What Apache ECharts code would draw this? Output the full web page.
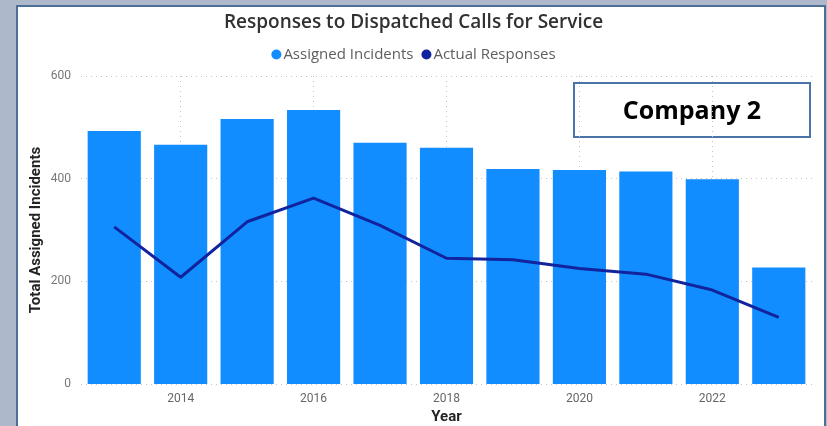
<!DOCTYPE html>
<html>
<head>
<meta charset="utf-8">
<script src="https://cdn.jsdelivr.net/npm/echarts@6/dist/echarts.min.js"></script>
<style>
  html, body { margin: 0; padding: 0; background: #adb9cb; }
  #chart { width: 827px; height: 426px; }
</style>
</head>
<body>
<div id="chart"></div>
<script>
// yearly counts
const years = ['2013', '2014', '2015', '2016', '2017', '2018', '2019', '2020', '2021', '2022', '2023']
const assignedIncidents = [493, 466, 516, 534, 470, 460, 419, 417, 414, 399, 227]
const actualResponses = [306, 208, 316, 362, 309, 245, 242, 225, 214, 183, 130]
const yTicks = [0, 200, 400, 600]

const chart = echarts.init(document.getElementById('chart'))

const GRID_LINE = { type: [1, 4], color: '#c4c4c4', width: 1 }
const evenYear = (i) => i % 2 === 1

chart.setOption({
  backgroundColor: '#adb9cb',
  textStyle: { fontFamily: 'Roboto' },
  graphic: [
    {
      type: 'rect', z: -10, silent: true,
      shape: { x: 17, y: 6, width: 808, height: 430 },
      style: { fill: '#ffffff', stroke: '#4d6f96', lineWidth: 2 },
    },
    {
      type: 'group', left: 573, top: 82, z: 10,
      children: [
        {
          type: 'rect',
          shape: { x: 0, y: 0, width: 236, height: 54 },
          style: { fill: '#ffffff', stroke: '#4a74a8', lineWidth: 2 },
        },
        {
          type: 'text', x: 118, y: 29,
          style: {
            text: 'Company 2', fill: '#000', align: 'center', verticalAlign: 'middle',
            font: 'bold 25px "Open Sans"',
          },
        },
      ],
    },
  ],
  title: {
    text: 'Responses to Dispatched Calls for Service',
    left: 'center', top: 8,
    textStyle: { fontSize: 19, fontWeight: 600, color: '#333130', fontFamily: 'Open Sans' },
  },
  legend: {
    top: 42, left: 'center',
    icon: 'circle', itemWidth: 10, itemHeight: 10, itemGap: 8,
    textStyle: { fontSize: 15, color: '#605e5c', fontFamily: 'Open Sans', padding: [0, 0, 0, -3] },
    data: ['Assigned Incidents', 'Actual Responses'],
  },
  grid: { left: 81, right: 15, top: 76, bottom: 42, outerBoundsMode: 'none' },
  xAxis: {
    type: 'category',
    data: years,
    name: 'Year',
    nameLocation: 'middle',
    nameGap: 26,
    nameMoveOverlap: false,
    nameTextStyle: { fontSize: 15, fontWeight: 'bold', color: '#252423' },
    axisLine: { show: false },
    axisTick: { show: false },
    axisLabel: { interval: (i) => evenYear(i), color: '#666', fontSize: 12, margin: 9 },
    splitLine: { show: true, alignWithLabel: true, interval: (i) => evenYear(i), lineStyle: GRID_LINE },
  },
  yAxis: {
    type: 'value',
    min: yTicks[0],
    max: yTicks[yTicks.length - 1],
    interval: 200,
    name: 'Total Assigned Incidents',
    nameLocation: 'middle',
    nameGap: 37,
    nameMoveOverlap: false,
    nameTextStyle: { fontSize: 15, fontWeight: 'bold', color: '#252423' },
    axisLabel: { color: '#777', fontSize: 12, margin: 10 },
    splitLine: { lineStyle: GRID_LINE },
  },
  series: [
    {
      name: 'Assigned Incidents',
      type: 'bar',
      data: assignedIncidents,
      barCategoryGap: '20%',
      itemStyle: { color: '#118dff' },
    },
    {
      name: 'Actual Responses',
      type: 'line',
      data: actualResponses,
      symbol: 'none',
      lineStyle: { width: 3, color: '#12239e' },
      itemStyle: { color: '#12239e' },
    },
  ],
})
</script>
</body>
</html>
